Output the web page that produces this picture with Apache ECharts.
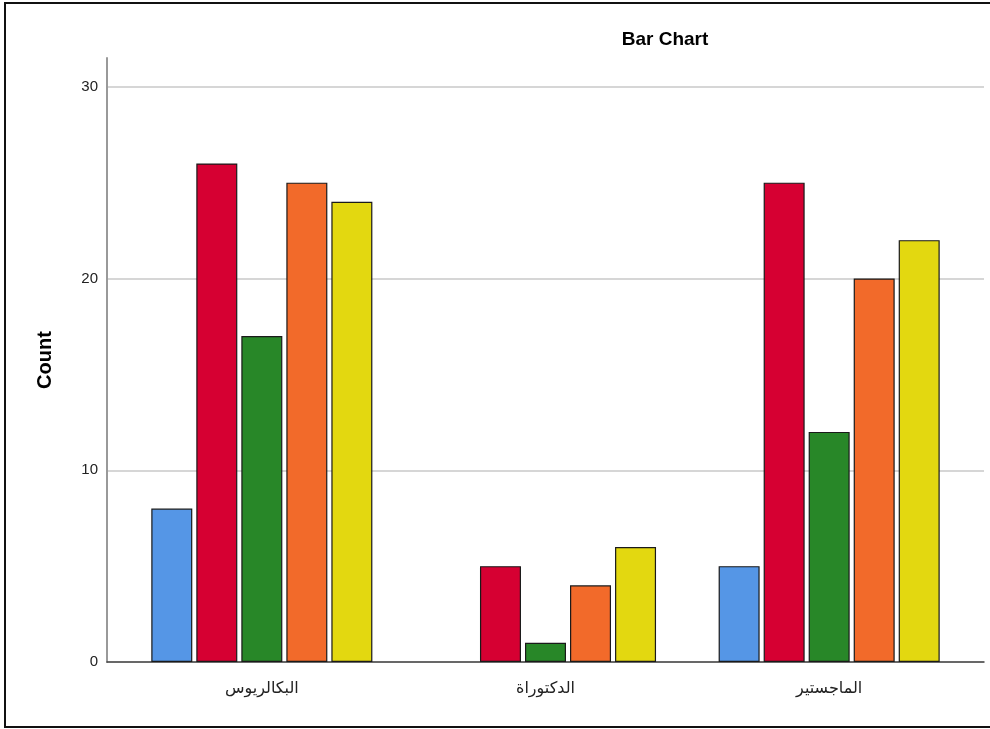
<!DOCTYPE html>
<html>
<head>
<meta charset="utf-8">
<script src="https://cdn.jsdelivr.net/npm/echarts@6/dist/echarts.min.js"></script>
<style>
html,body{margin:0;padding:0;background:#fff;}
#wrap{position:relative;width:990px;height:729px;}
#chart{position:absolute;left:0;top:0;width:990px;height:729px;}
#frame{position:absolute;left:4px;top:2px;width:990px;height:722px;border-left:2px solid #111;border-top:2px solid #111;border-bottom:2px solid #111;box-sizing:content-box;pointer-events:none;}
</style>
</head>
<body>
<div id="wrap"><div id="chart"></div><div id="frame"></div></div>
<script>
const categories = ['البكالريوس', 'الدكتوراة', 'الماجستير'];
const seriesNames = ['A', 'B', 'C', 'D', 'E'];
const seriesColors = ['#5596E6', '#D60032', '#288728', '#F26A2A', '#E3D810'];
const valuesA = [8, null, 5];
const valuesB = [26, 5, 25];
const valuesC = [17, 1, 12];
const valuesD = [25, 4, 20];
const valuesE = [24, 6, 22];
const yTicks = [0, 10, 20, 30];

const allValues = [valuesA, valuesB, valuesC, valuesD, valuesE];
const chart = echarts.init(document.getElementById('chart'));
const font = 'Liberation Sans, Arial, DejaVu Sans, sans-serif';

chart.setOption({
  animation: false,
  title: {
    text: 'Bar Chart',
    left: 660, top: 25, textAlign: 'center',
    textStyle: {fontFamily: font, fontSize: 19, fontWeight: 'bold', color: '#000'}
  },
  grid: [
    {left: 107, right: 6, top: 58, bottom: 67},
    {left: 120, right: 19, top: 58, bottom: 67}
  ],
  xAxis: [
    {gridIndex: 0, type: 'value', min: 0, max: 1,
     axisLine: {show: true, lineStyle: {color: '#444', width: 1.5}},
     axisTick: {show: false}, axisLabel: {show: false}, splitLine: {show: false}},
    {gridIndex: 1, type: 'category', data: categories,
     axisLine: {show: false}, axisTick: {show: false},
     axisLabel: {fontFamily: 'DejaVu Sans, sans-serif', fontSize: 16, color: '#222', margin: 19}}
  ],
  yAxis: [
    {gridIndex: 0, type: 'value', min: 0, max: 31.5, interval: 10,
     name: 'Count', nameLocation: 'middle', nameGap: 52,
     nameTextStyle: {fontFamily: font, fontSize: 20, fontWeight: 'bold', color: '#000'},
     axisLine: {show: true, lineStyle: {color: '#999', width: 2}},
     axisTick: {show: false},
     axisLabel: {fontFamily: font, fontSize: 15, color: '#222', margin: 9, showMaxLabel: false,
       formatter: v => yTicks.includes(v) ? String(v) : ''},
     splitLine: {show: true, showMaxLine: false, lineStyle: {color: '#c8c8c8', width: 1.5}}},
    {gridIndex: 1, type: 'value', min: 0, max: 31.5, interval: 10, show: false,
     splitLine: {show: false}}
  ],
  series: allValues.map((vals, i) => ({
    name: seriesNames[i], type: 'bar', xAxisIndex: 1, yAxisIndex: 1,
    data: vals, barWidth: 41, barGap: '9.8%',
    itemStyle: {color: seriesColors[i], borderColor: '#1a1a1a', borderWidth: 1.2}
  }))
});
</script>
</body>
</html>
